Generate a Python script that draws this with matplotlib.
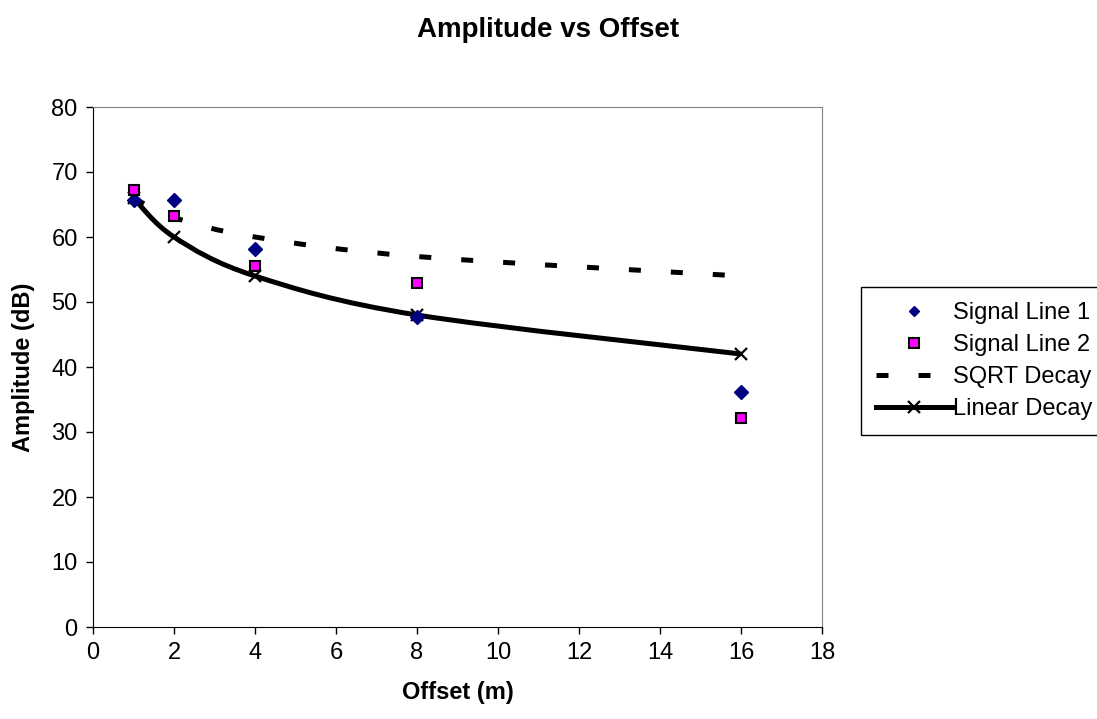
import matplotlib
matplotlib.use("Agg")
import matplotlib.pyplot as plt
from matplotlib.path import Path
from matplotlib.patches import PathPatch
from matplotlib.lines import Line2D
import numpy as np

plt.rcParams['font.family'] = ['Liberation Sans', 'DejaVu Sans']

## data
offset = [1, 2, 4, 8, 16]
signal_line_1 = [65.7, 65.7, 58.1, 47.7, 36.2]
signal_line_2 = [67.3, 63.2, 55.6, 52.9, 32.2]
sqrt_decay = [66, 63, 60, 57, 54]
linear_decay = [66, 60, 54, 48, 42]


def smooth_path(xs, ys):
    ## excel style smoothed line (catmull-rom through the points)
    pts = np.column_stack([xs, ys]).astype(float)
    ext = np.vstack([pts[0], pts, pts[-1]])
    verts = [pts[0]]
    codes = [Path.MOVETO]
    for i in range(len(pts) - 1):
        p0, p1, p2, p3 = ext[i], ext[i + 1], ext[i + 2], ext[i + 3]
        verts += [p1 + (p2 - p0) / 6, p2 - (p3 - p1) / 6, p2]
        codes += [Path.CURVE4] * 3
    return Path(verts, codes)


fig = plt.figure(figsize=(10.97, 7.19), dpi=100)
ax = fig.add_axes([93 / 1097, 1 - 627 / 719, (822 - 93) / 1097, (627 - 107) / 719])

lw = 3.6
dash = (0, (2.4, 6.0))
ax.add_patch(PathPatch(smooth_path(offset, sqrt_decay), fill=False, color='black',
                       lw=lw, linestyle=dash, capstyle='butt', zorder=2))
ax.add_patch(PathPatch(smooth_path(offset, linear_decay), fill=False, color='black',
                       lw=lw, zorder=2))
ax.plot(offset, linear_decay, linestyle='none', marker='x', color='black',
        ms=9, mew=1.6, zorder=3)
ax.plot(offset, signal_line_1, linestyle='none', marker='D', color='#000080',
        ms=7, zorder=4)
ax.plot(offset, signal_line_2, linestyle='none', marker='s', mfc='#FF00FF',
        mec='black', mew=1.5, ms=7.5, zorder=5)

ax.set_xlim(0, 18)
ax.set_ylim(0, 80)
ax.set_xticks(range(0, 19, 2))
ax.set_yticks(range(0, 81, 10))
ax.tick_params(direction='out', length=5, width=1, labelsize=17, pad=6)
for s in ['left', 'bottom']:
    ax.spines[s].set_color('black')
for s in ['top', 'right']:
    ax.spines[s].set_color('#808080')

ax.set_xlabel('Offset (m)', fontsize=17, fontweight='bold', labelpad=12)
ax.set_ylabel('Amplitude (dB)', fontsize=17, fontweight='bold', labelpad=12)
fig.text(0.5, 1 - 30 / 719, 'Amplitude vs Offset', fontsize=20, fontweight='bold',
         ha='center', va='center')

handles = [
    Line2D([], [], linestyle='none', marker='D', color='#000080', ms=5.5),
    Line2D([], [], linestyle='none', marker='s', mfc='#FF00FF', mec='black', mew=1.5, ms=6.5),
    Line2D([], [], color='black', lw=lw, linestyle=dash),
    Line2D([], [], color='black', lw=lw, marker='x', ms=9, mew=1.6),
]
labels = ['Signal Line 1', 'Signal Line 2', 'SQRT Decay', 'Linear Decay']
leg = fig.legend(handles, labels, loc='upper left',
                 bbox_to_anchor=(861 / 1097, 1 - 287 / 719), fontsize=17,
                 frameon=True, fancybox=False, edgecolor='black', framealpha=1,
                 handlelength=3.2, handletextpad=0.05, labelspacing=0.42,
                 borderpad=0.65, borderaxespad=0)
leg.get_frame().set_linewidth(1)

fig.savefig('out.png', dpi=100)
